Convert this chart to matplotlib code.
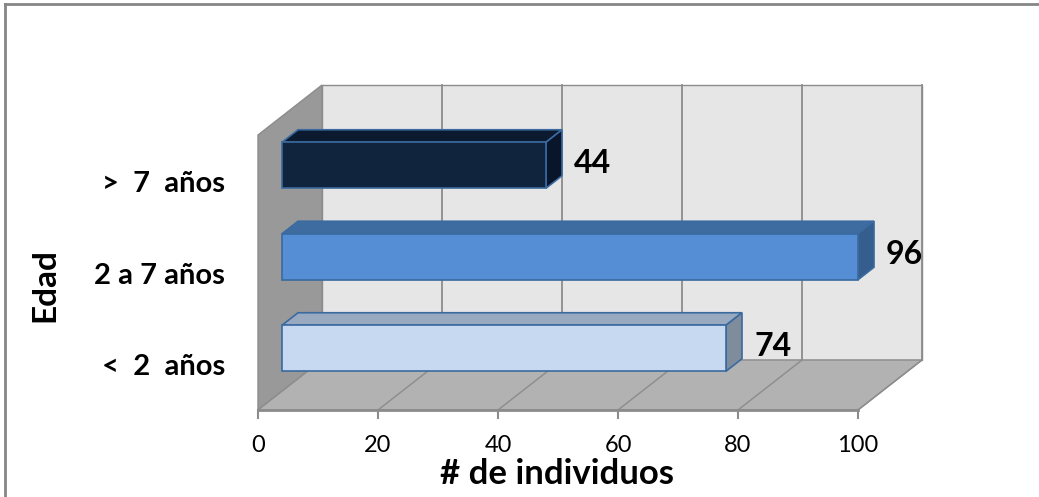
import numpy as np
import matplotlib
matplotlib.use('Agg')
import matplotlib.pyplot as plt
from matplotlib.patches import Polygon
from matplotlib.lines import Line2D

# Data
categories = ['<  2  años', '2 a 7 años', '>  7  años']
values = [74, 96, 44]
bar_colors = ['#c6d9f0', '#558ed5', '#10243e']
top_colors = ['#98a9c0', '#3f6ca0', '#0b1a2f']
side_colors = ['#7f8c9c', '#355d8e', '#08152a']
x_ticks = [0, 20, 40, 60, 80, 100]

plt.rcParams['font.family'] = ['Lato', 'DejaVu Sans']

W, H = 1039, 497
fig = plt.figure(figsize=(W / 100, H / 100), dpi=100)
ax = fig.add_axes([0, 0, 1, 1])

# pixel mapping: value 0 -> x=258px, 6 px per unit; category unit = 91.5 px
px_x = 6.0
px_y = 91.5
ax.set_xlim(-258 / px_x, (W - 258) / px_x)
ax.set_ylim((367 - H) / px_y, 367 / px_y)
ax.axis('off')

# depth vector for the full depth of the plot box
dx = 64 / px_x
dy = 50 / px_y
y_floor = (367 - 410) / px_y
y_top = (367 - 135) / px_y
xmax = 100

# walls
left_wall = Polygon([(0, y_floor), (0, y_top), (dx, y_top + dy), (dx, y_floor + dy)],
                    closed=True, fc='#999999', ec='#8c8c8c', lw=1, zorder=1)
floor = Polygon([(0, y_floor), (xmax, y_floor), (xmax + dx, y_floor + dy), (dx, y_floor + dy)],
                closed=True, fc='#b2b2b2', ec='#8c8c8c', lw=1, zorder=1)
back = Polygon([(dx, y_floor + dy), (xmax + dx, y_floor + dy), (xmax + dx, y_top + dy), (dx, y_top + dy)],
               closed=True, fc='#e6e6e6', ec='#8c8c8c', lw=1, zorder=0.5)
for p in (back, left_wall, floor):
    ax.add_patch(p)

# gridlines on the back wall and floor
for t in x_ticks[1:]:
    ax.plot([t + dx, t + dx], [y_floor + dy, y_top + dy], color='#8c8c8c', lw=1.3, zorder=0.8)
    ax.plot([t, t + dx], [y_floor, y_floor + dy], color='#8c8c8c', lw=1, zorder=1.2)
# tick marks and labels
ax.plot([0, xmax], [y_floor, y_floor], color='#8c8c8c', lw=2, zorder=1.3)
for t in x_ticks:
    ax.plot([t, t], [y_floor, y_floor - 8 / px_y], color='#8c8c8c', lw=1.5, zorder=1.3)
    ax.text(t, (367 - 446) / px_y, str(t), ha='center', va='center', fontsize=17, color='black')

# 3D bars: front face at depth 0.375, depth 0.25
d0, d1 = 0.375, 0.625
bh = 46 / px_y
ypos = np.arange(len(categories))
yc = ypos + d0 * dy
ax.barh(yc, values, left=d0 * dx, height=bh, color=bar_colors, edgecolor='#3a6aa0', lw=1.2, zorder=3)
for i, v in enumerate(values):
    x0 = d0 * dx
    yt = yc[i] + bh / 2
    yb = yc[i] - bh / 2
    ddx = (d1 - d0) * dx
    ddy = (d1 - d0) * dy
    top = Polygon([(x0, yt), (x0 + v, yt), (x0 + v + ddx, yt + ddy), (x0 + ddx, yt + ddy)],
                  closed=True, fc=top_colors[i], ec='#3a6aa0', lw=1.2, zorder=2.5)
    side = Polygon([(x0 + v, yb), (x0 + v + ddx, yb + ddy), (x0 + v + ddx, yt + ddy), (x0 + v, yt)],
                   closed=True, fc=side_colors[i], ec='#3a6aa0', lw=1.2, zorder=2.5)
    ax.add_patch(top)
    ax.add_patch(side)
    ax.text(x0 + v + ddx + 2.0, yc[i] + 0.02, str(v), ha='left', va='center',
            fontsize=23, fontweight='bold', color='black', zorder=4)

# category labels
for i, c in enumerate(categories):
    ax.text(-33 / px_x, ypos[i], c, ha='right', va='center', fontsize=21,
            fontweight='bold', color='black')

# axis titles
ax.text((557 - 258) / px_x, (367 - 474) / px_y, '# de individuos', ha='center', va='center',
        fontsize=25, fontweight='bold', color='black')
ax.text((45 - 258) / px_x, (367 - 285) / px_y, 'Edad', ha='center', va='center',
        rotation=90, fontsize=24, fontweight='bold', color='black')

# chart border (top and left edges)
fig.add_artist(Line2D([5 / W, 1038 / W], [1 - 4 / H, 1 - 4 / H], color='#868686', lw=2,
                      transform=fig.transFigure))
fig.add_artist(Line2D([5 / W, 5 / W], [0, 1 - 4 / H], color='#868686', lw=2,
                      transform=fig.transFigure))

fig.savefig('out.png', dpi=100, facecolor='white')
